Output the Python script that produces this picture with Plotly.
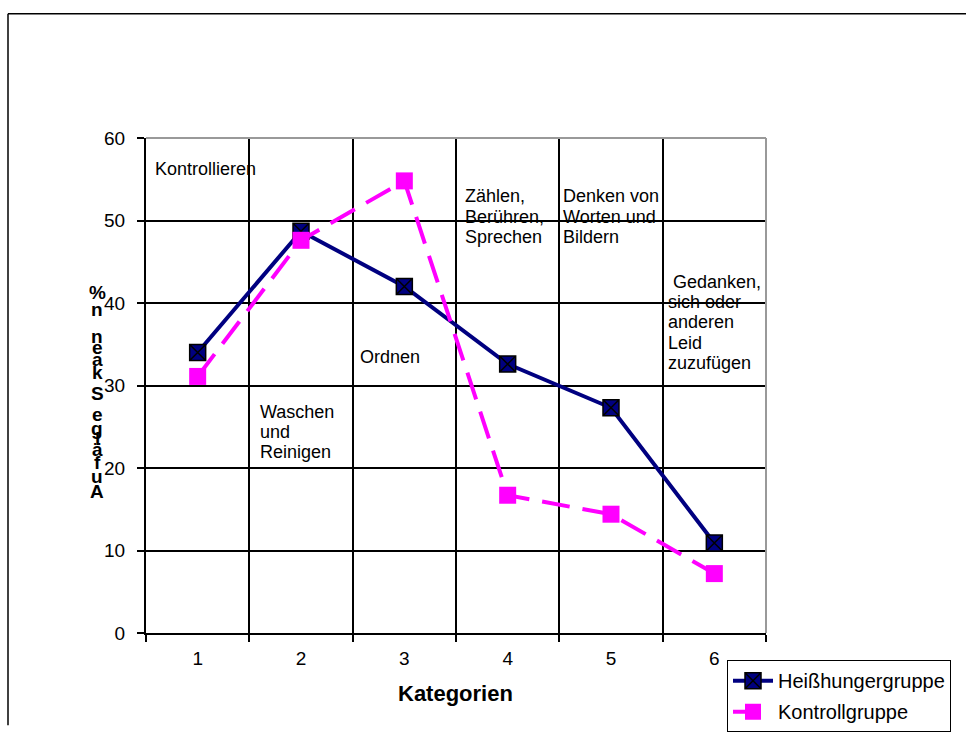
import plotly.graph_objects as go

categories = [1, 2, 3, 4, 5, 6]
tick_labels = ["1", "2", "3", "4", "5", "6"]
heisshunger = [34.0, 48.7, 42.0, 32.6, 27.3, 10.9]
kontroll = [31.1, 47.6, 54.8, 16.7, 14.4, 7.2]
series_names = ["Heißhungergruppe", "Kontrollgruppe"]
category_texts = [
    ["Kontrollieren"],
    ["Waschen", "und", "Reinigen"],
    ["Ordnen"],
    ["Zählen,", "Berühren,", "Sprechen"],
    ["Denken von", "Worten und", "Bildern"],
    [" Gedanken,", "sich oder", "anderen", "Leid", "zuzufügen"],
]
y_title_chars = ["%", "n", "n", "e", "a", "k", "S", "e", "g", "l", "ä", "f", "u", "A"]
x_title = "Kategorien"

W, H = 967, 744
# plot area in window pixels
L, R, T, B = 146, 766, 138, 648
FONT = "Liberation Sans, Arial, sans-serif"


def px(x):
    return (x - L) / (R - L)


def py(y):
    return (B - y) / (B - T)


fig = go.Figure()
fig.add_trace(go.Scatter(
    x=categories, y=heisshunger, name=series_names[0], mode="lines+markers",
    legendgroup="a",
    line=dict(color="#000080", width=4),
    marker=dict(symbol="square-x", size=16, color="#000080",
                line=dict(color="black", width=1.5)),
))
fig.add_trace(go.Scatter(
    x=categories, y=kontroll, name=series_names[1], mode="lines+markers",
    legendgroup="b",
    line=dict(color="#FF00FF", width=4, dash="28px,13px"),
    marker=dict(symbol="square", size=17, color="#FF00FF",
                line=dict(color="#FF00FF", width=0)),
))

annotations = []
# category text labels: (left px, first line center y px)
label_pos = [(153, 170), (258, 420), (358, 364), (463, 198), (561, 198), (666, 286)]
for lines, (lx, ly) in zip(category_texts, label_pos):
    for i, t in enumerate(lines):
        annotations.append(dict(
            x=px(lx), y=py(ly + i * 21), xref="paper", yref="paper",
            text=t, showarrow=False, xanchor="left", yanchor="middle",
            font=dict(family=FONT, size=18, color="black"),
        ))

# stacked y title
char_y = [297, 315, 343, 354, 366, 380, 401, 423, 437, 448, 459, 472, 487, 502]
for ch, cy in zip(y_title_chars, char_y):
    annotations.append(dict(
        x=px(97), y=py(cy), xref="paper", yref="paper", text="<b>%s</b>" % ch,
        showarrow=False, xanchor="center", yanchor="middle",
        font=dict(family=FONT, size=19, color="black"),
    ))

annotations.append(dict(
    x=px(455), y=py(710), xref="paper", yref="paper", text="<b>%s</b>" % x_title,
    showarrow=False, xanchor="center", yanchor="middle",
    font=dict(family=FONT, size=22, color="black"),
))

shapes = [
    # outer frame: top and left edges (right/bottom lie outside the window)
    dict(type="line", xref="paper", yref="paper", x0=px(8), x1=px(966),
         y0=py(10), y1=py(10), line=dict(color="black", width=1.5), layer="below"),
    dict(type="line", xref="paper", yref="paper", x0=px(8), x1=px(8),
         y0=py(10), y1=py(743), line=dict(color="black", width=1.5), layer="below"),
    # gray top and right plot borders
    dict(type="line", xref="paper", yref="paper", x0=0, x1=1, y0=1, y1=1,
         line=dict(color="#999999", width=2), layer="above"),
    dict(type="line", xref="paper", yref="paper", x0=1, x1=1, y0=0, y1=1,
         line=dict(color="#999999", width=2), layer="above"),
]

fig.update_layout(
    width=W, height=H,
    margin=dict(l=L, r=W - R, t=T, b=H - B, pad=0),
    paper_bgcolor="white", plot_bgcolor="white",
    font=dict(family=FONT, color="black"),
    showlegend=True,
    legend=dict(
        x=px(727), y=py(676), xanchor="left", yanchor="top",
        bgcolor="white", bordercolor="black", borderwidth=1,
        font=dict(family=FONT, size=20, color="black"),
        tracegroupgap=2, itemwidth=40,
    ),
    annotations=annotations,
    shapes=shapes,
)
fig.update_xaxes(
    range=[0.5, 6.5], tickvals=categories, ticktext=tick_labels,
    ticks="", showgrid=False, zeroline=False,
    showline=True, linecolor="black", linewidth=2,
    tickfont=dict(family=FONT, size=19, color="black"),
    ticklabelstandoff=7,
    minor=dict(tickvals=[0.5, 1.5, 2.5, 3.5, 4.5, 5.5, 6.5], ticks="outside",
               ticklen=7, tickcolor="black", tickwidth=1.5,
               showgrid=True, gridcolor="black", gridwidth=1.5),
)
fig.update_yaxes(
    range=[0, 60], dtick=10, tick0=0,
    ticks="outside", ticklen=7, tickcolor="black", tickwidth=1.5,
    showgrid=True, gridcolor="black", gridwidth=1.5, zeroline=False,
    showline=True, linecolor="black", linewidth=2,
    tickfont=dict(family=FONT, size=19, color="black"),
    ticklabelstandoff=8,
)

fig.write_html(
    "out.html",
    config={"displayModeBar": False},
    post_script="document.body.style.margin='0';document.body.style.overflow='hidden';",
)
